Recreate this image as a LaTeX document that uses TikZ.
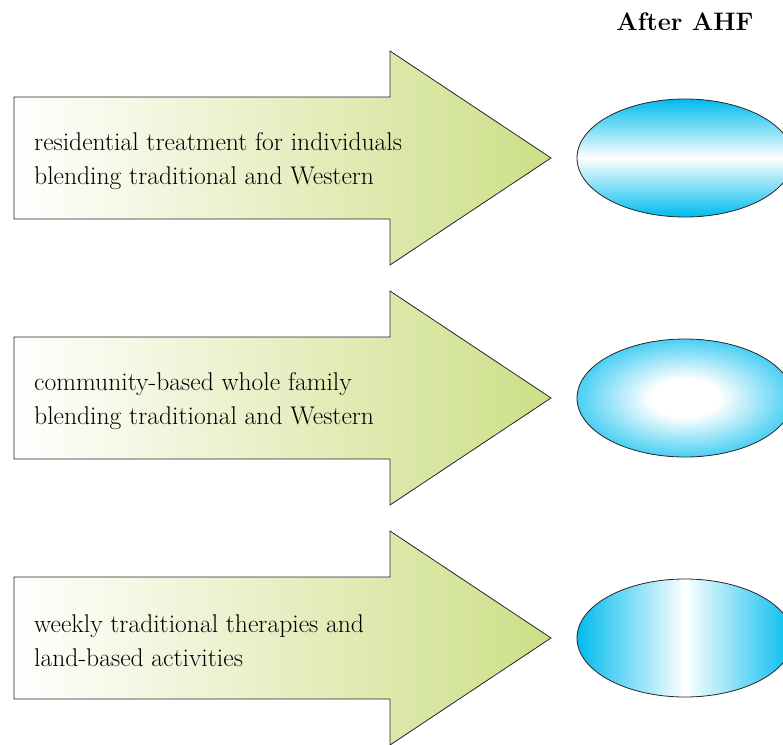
\documentclass[tikz,border=0pt]{standalone}
\usetikzlibrary{positioning}
\definecolor{ahfcyan}{RGB}{0,187,238}
\definecolor{ahfgreen}{RGB}{205,223,135}
\pgfdeclareradialshading{ahfglow}{\pgfpoint{0bp}{0bp}}{color(0bp)=(white); color(8bp)=(white); color(32bp)=(ahfcyan); color(50bp)=(ahfcyan)}
\begin{document}
\begin{tikzpicture}[x=1pt, y=-1pt]
  \tikzset{arrow body/.style={draw=black!85, line width=0.8pt, left color=white, right color=ahfgreen},
    arrow text/.style={anchor=west, align=left, inner sep=0pt, font=\fontsize{25.6}{34}\selectfont},
    outcome/.style={draw=black!85, line width=0.8pt}}
  \useasboundingbox (0,0) rectangle (783,744);

  % Heading over the outcomes
  \node[font=\fontsize{25.3}{28}\selectfont\bfseries] (head) at (685,22) {After AHF};

  % Three big arrows, one per programme
  \foreach \d in {0,240,480}
    \draw[arrow body] (14,97+\d) -- (390,97+\d) -- (390,51+\d) -- (551,158+\d)
      -- (390,265+\d) -- (390,219+\d) -- (14,219+\d) -- cycle;

  \node[arrow text] (prog1) at (34,161) {residential treatment for individuals\\blending traditional and Western};
  \node[arrow text] (prog2) at (34,401) {community-based whole family\\blending traditional and Western};
  \node[arrow text] (prog3) at (34,641) {weekly traditional therapies and\\land-based activities};

  % Outcome ellipses
  \draw[outcome, top color=ahfcyan, bottom color=ahfcyan, middle color=white]
    (685,158) ellipse [x radius=108pt, y radius=59pt];
  \draw[outcome, shading=ahfglow]
    (685,398) ellipse [x radius=108pt, y radius=59pt];
  \draw[outcome, left color=ahfcyan, right color=ahfcyan, middle color=white]
    (685,638) ellipse [x radius=108pt, y radius=59pt];
\end{tikzpicture}
\end{document}
